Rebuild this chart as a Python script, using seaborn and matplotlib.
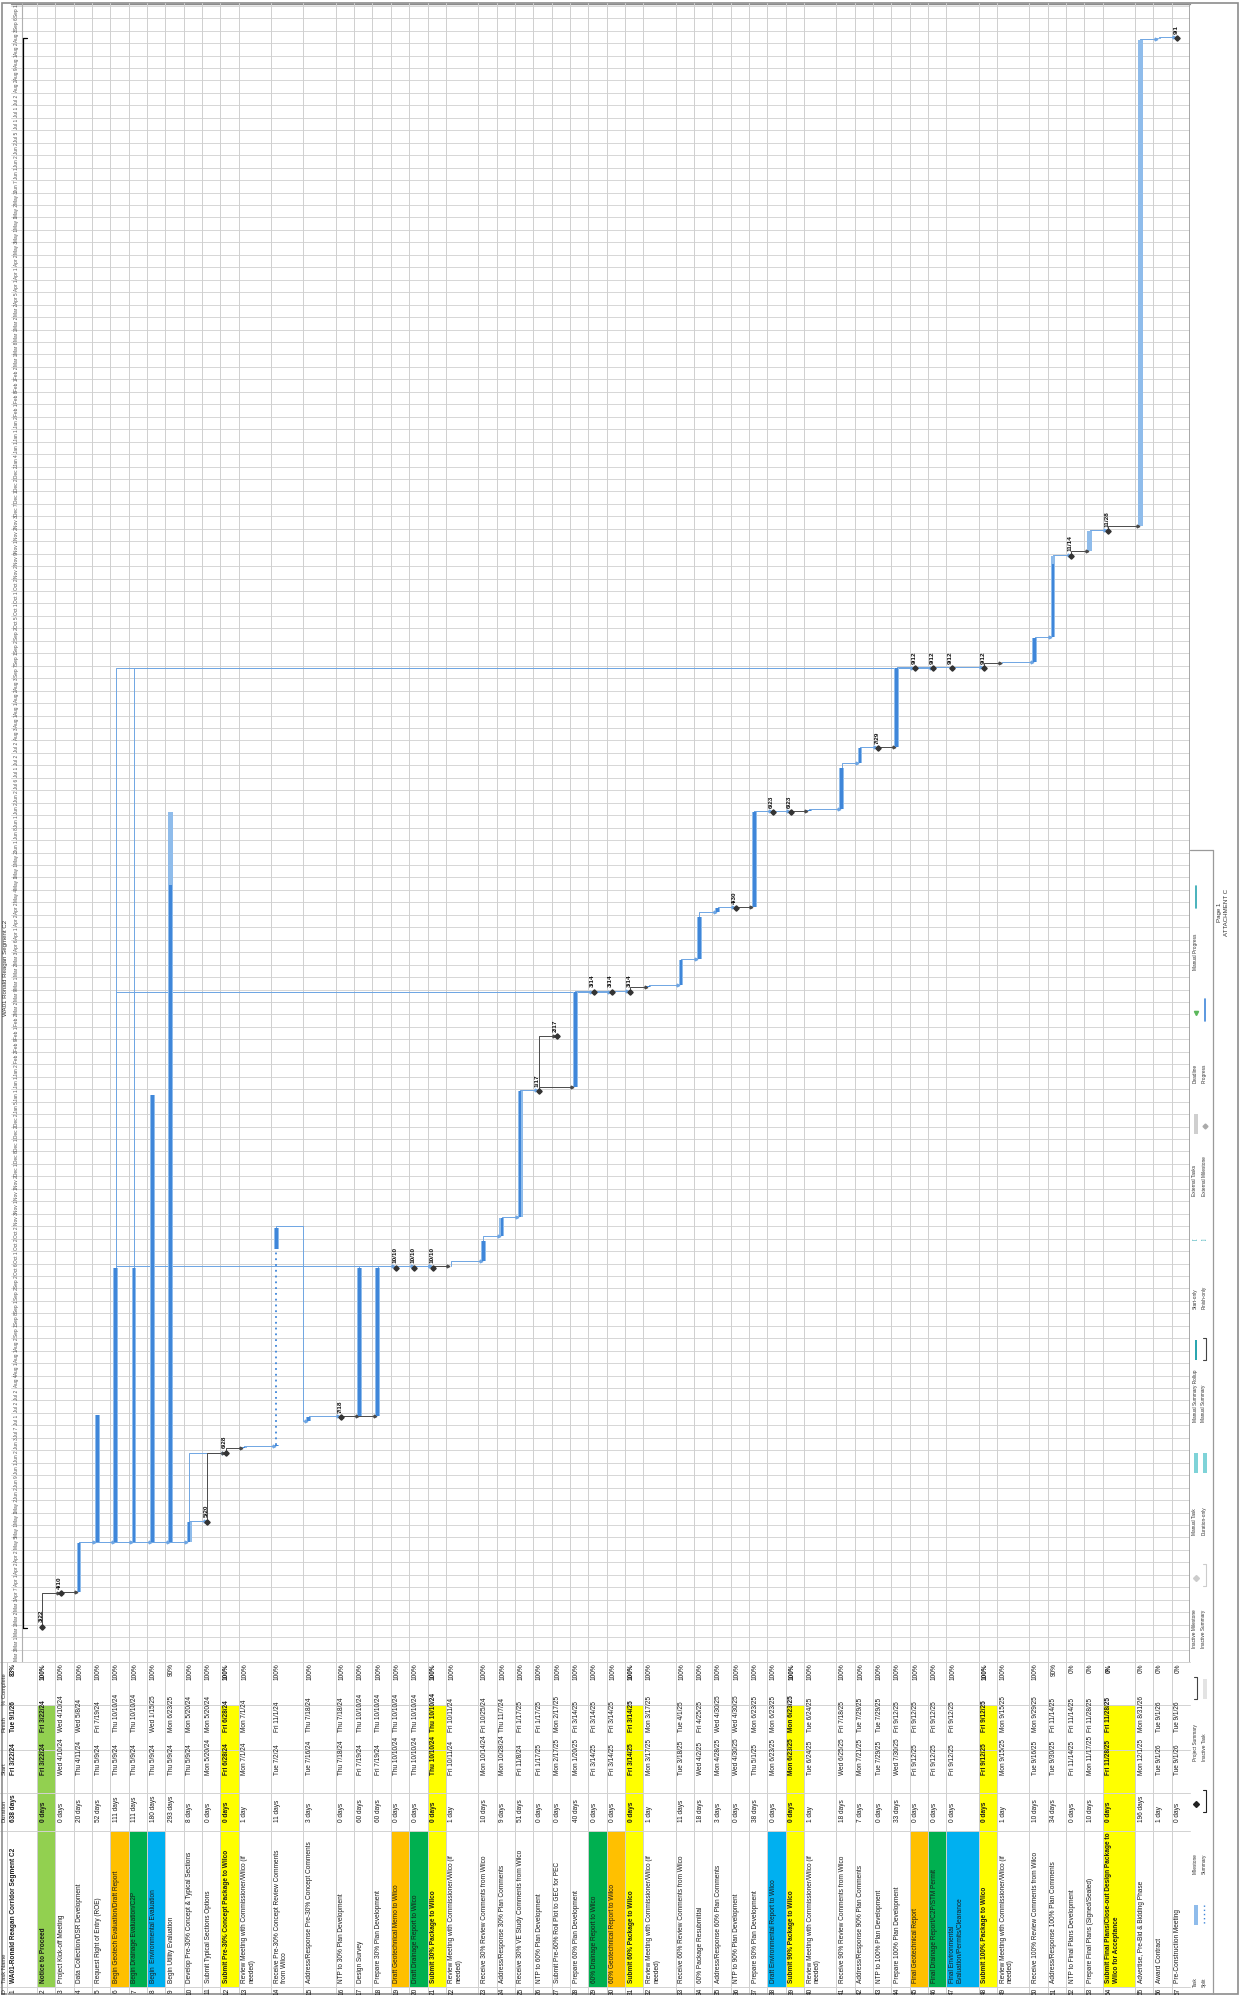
import datetime as dt
import numpy as np
import pandas as pd
import matplotlib
matplotlib.use("Agg")
import matplotlib.pyplot as plt
import matplotlib.dates as mdates
import seaborn as sns
from matplotlib.patches import Rectangle

sns.set_theme(style="white")
plt.rcParams['font.family'] = ['Liberation Sans', 'DejaVu Sans']

# ---------------- data ----------------
task_names = [
    "WA01-Ronald Reagan Corridor Segment C2",
    "Notice to Proceed",
    "Project Kick-off Meeting",
    "Data Collection/DSR Development",
    "Request Right of Entry (ROE)",
    "Begin Geotech Evaluation/Draft Report",
    "Begin Drainage Evaluation/C2P",
    "Begin  Environmental Evaluation",
    "Begin Utility Evaluation",
    "Develop Pre-30% Concept & Typical Sections",
    "Submit Typical Sections Options",
    "Submit Pre-30% Concept Package to Wilco",
    "Review Meeting with Commissioner/Wilco (if\nneeded)",
    "Receive Pre-30% Concept Review Comments\nfrom Wilco",
    "Address/Response Pre-30% Concept Comments",
    "NTP to 30% Plan Development",
    "Design Survey",
    "Prepare 30% Plan Development",
    "Draft Geotechnical Memo to Wilco",
    "Draft Drainage Report to Wilco",
    "Submit 30% Package to Wilco",
    "Review Meeting with Commissioner/Wilco (if\nneeded)",
    "Receive 30% Review Comments from Wilco",
    "Address/Response 30% Plan Comments",
    "Receive 30% VE Study Comments from Wilco",
    "NTP to 60% Plan Development",
    "Submit Pre-60% Roll Plot to GEC for PEC",
    "Prepare 60% Plan Development",
    "60% Drainage Report to Wilco",
    "60% Geotechnical Report to Wilco",
    "Submit 60% Package to Wilco",
    "Review Meeting with Commissioner/Wilco (if\nneeded)",
    "Receive 60% Review Comments from Wilco",
    "60% Package Resubmittal",
    "Address/Response 60% Plan Comments",
    "NTP to 90% Plan Development",
    "Prepare 90% Plan Development",
    "Draft Environmental Report to Wilco",
    "Submit 90% Package to Wilco",
    "Review Meeting with Commissioner/Wilco (if\nneeded)",
    "Receive 90% Review Comments from Wilco",
    "Address/Response 90% Plan Comments",
    "NTP to 100% Plan Development",
    "Prepare 100% Plan Development",
    "Final Geotechnical Report",
    "Final Drainage Report/C2P/STM Permit",
    "Final Environmental\nEvaluation/Permits/Clearance",
    "Submit 100% Package to Wilco",
    "Review Meeting with Commissioner/Wilco (if\nneeded)",
    "Receive 100% Review Comments from Wilco",
    "Address/Response 100% Plan Comments",
    "NTP to Final Plans Development",
    "Prepare Final Plans (Signed/Sealed)",
    "Submit Final Plans/Close-out Design Package to\nWilco for Acceptance",
    "Advertise, Pre-Bid & Bidding Phase",
    "Award Contract",
    "Pre-Construction Meeting",
]

durations = [
    "638 days", "0 days", "0 days", "20 days", "52 days", "111 days", "111 days",
    "180 days", "293 days", "8 days", "0 days", "0 days", "1 day", "11 days",
    "3 days", "0 days", "60 days", "60 days", "0 days", "0 days", "0 days",
    "1 day", "10 days", "9 days", "51 days", "0 days", "0 days", "40 days",
    "0 days", "0 days", "0 days", "1 day", "11 days", "18 days", "3 days",
    "0 days", "38 days", "0 days", "0 days", "1 day", "18 days", "7 days",
    "0 days", "33 days", "0 days", "0 days", "0 days", "0 days", "1 day",
    "10 days", "34 days", "0 days", "10 days", "0 days", "196 days", "1 day",
    "0 days",
]

starts = [
    "Fri 3/22/24", "Fri 3/22/24", "Wed 4/10/24", "Thu 4/11/24", "Thu 5/9/24",
    "Thu 5/9/24", "Thu 5/9/24", "Thu 5/9/24", "Thu 5/9/24", "Thu 5/9/24",
    "Mon 5/20/24", "Fri 6/28/24", "Mon 7/1/24", "Tue 7/2/24", "Tue 7/16/24",
    "Thu 7/18/24", "Fri 7/19/24", "Fri 7/19/24", "Thu 10/10/24", "Thu 10/10/24",
    "Thu 10/10/24", "Fri 10/11/24", "Mon 10/14/24", "Mon 10/28/24", "Fri 11/8/24",
    "Fri 1/17/25", "Mon 2/17/25", "Mon 1/20/25", "Fri 3/14/25", "Fri 3/14/25",
    "Fri 3/14/25", "Mon 3/17/25", "Tue 3/18/25", "Wed 4/2/25", "Mon 4/28/25",
    "Wed 4/30/25", "Thu 5/1/25", "Mon 6/23/25", "Mon 6/23/25", "Tue 6/24/25",
    "Wed 6/25/25", "Mon 7/21/25", "Tue 7/29/25", "Wed 7/30/25", "Fri 9/12/25",
    "Fri 9/12/25", "Fri 9/12/25", "Fri 9/12/25", "Mon 9/15/25", "Tue 9/16/25",
    "Tue 9/30/25", "Fri 11/14/25", "Mon 11/17/25", "Fri 11/28/25", "Mon 12/1/25",
    "Tue 9/1/26", "Tue 9/1/26",
]

finishes = [
    "Tue 9/1/26", "Fri 3/22/24", "Wed 4/10/24", "Wed 5/8/24", "Fri 7/19/24",
    "Thu 10/10/24", "Thu 10/10/24", "Wed 1/15/25", "Mon 6/23/25", "Mon 5/20/24",
    "Mon 5/20/24", "Fri 6/28/24", "Mon 7/1/24", "Fri 11/1/24", "Thu 7/18/24",
    "Thu 7/18/24", "Thu 10/10/24", "Thu 10/10/24", "Thu 10/10/24", "Thu 10/10/24",
    "Thu 10/10/24", "Fri 10/11/24", "Fri 10/25/24", "Thu 11/7/24", "Fri 1/17/25",
    "Fri 1/17/25", "Mon 2/17/25", "Fri 3/14/25", "Fri 3/14/25", "Fri 3/14/25",
    "Fri 3/14/25", "Mon 3/17/25", "Tue 4/1/25", "Fri 4/25/25", "Wed 4/30/25",
    "Wed 4/30/25", "Mon 6/23/25", "Mon 6/23/25", "Mon 6/23/25", "Tue 6/24/25",
    "Fri 7/18/25", "Tue 7/29/25", "Tue 7/29/25", "Fri 9/12/25", "Fri 9/12/25",
    "Fri 9/12/25", "Fri 9/12/25", "Fri 9/12/25", "Mon 9/15/25", "Mon 9/29/25",
    "Fri 11/14/25", "Fri 11/14/25", "Fri 11/28/25", "Fri 11/28/25", "Mon 8/31/26",
    "Tue 9/1/26", "Tue 9/1/26",
]

pct_complete = [
    83, 100, 100, 100, 100, 100, 100, 100, 90, 100, 100, 100, 100, 100, 100,
    100, 100, 100, 100, 100, 100, 100, 100, 100, 100, 100, 100, 100, 100, 100,
    100, 100, 100, 100, 100, 100, 100, 100, 100, 100, 100, 100, 100, 100, 100,
    100, 100, 100, 100, 100, 90, 0, 0, 0, 0, 0, 0,
]

# split task 14: pieces of work
split_task = 14
split_pieces = [("7/2/24", "7/2/24"), ("10/21/24", "11/1/24")]

# predecessor -> successor links
links = [
    (2, 3), (3, 4), (4, 5), (4, 6), (4, 7), (4, 8), (4, 9), (4, 10), (10, 11),
    (10, 12), (11, 12), (12, 13), (13, 14), (14, 15), (15, 16), (16, 17),
    (16, 18), (6, 19), (7, 20), (17, 21), (18, 21), (21, 22), (22, 23),
    (23, 24), (24, 25), (25, 26), (26, 28), (26, 27), (7, 29), (6, 30),
    (28, 31), (31, 32), (32, 33), (33, 34), (34, 35), (35, 36), (36, 37),
    (37, 38), (37, 39), (39, 40), (40, 41), (41, 42), (42, 43), (43, 44),
    (6, 45), (7, 46), (44, 48), (48, 49), (49, 50), (50, 51), (51, 52),
    (52, 53), (53, 54), (54, 55), (55, 56), (56, 57),
]

name_fill = {6: "#FFC000", 19: "#FFC000", 30: "#FFC000", 45: "#FFC000",
             7: "#00B050", 20: "#00B050", 29: "#00B050", 46: "#00B050",
             8: "#00B0F0", 38: "#00B0F0", 47: "#00B0F0"}
row_fill = {2: "#92D050", 12: "#FFFF00", 21: "#FFFF00", 31: "#FFFF00",
            39: "#FFFF00", 48: "#FFFF00", 54: "#FFFF00"}
bold_rows = {1, 2, 12, 21, 31, 39, 48, 54}

legend_a = ["Task", "Milestone", "Project Summary", "Inactive Milestone",
            "Manual Task", "Manual Summary Rollup", "Start-only",
            "External Tasks", "Deadline", "Manual Progress"]
legend_b = ["Split", "Summary", "Inactive Task", "Inactive Summary",
            "Duration-only", "Manual Summary", "Finish-only",
            "External Milestone", "Progress", ""]

# ---------------- frame ----------------
def to_date(s):
    return pd.to_datetime(s.split()[-1], format="%m/%d/%y")

df = pd.DataFrame({"id": range(1, 58), "name": task_names, "dur": durations,
                   "start": starts, "finish": finishes, "pct": pct_complete})
df["s"] = [mdates.date2num(to_date(v) + pd.Timedelta(hours=8)) for v in df["start"]]
df["f"] = [mdates.date2num(to_date(v) + pd.Timedelta(hours=17)) for v in df["finish"]]
df["ms"] = df["dur"] == "0 days"

W, H = 1241, 1995
fig = plt.figure(figsize=(W / 100, H / 100), dpi=100)
page = fig.add_axes([0, 0, 1, 1])
page.set_xlim(0, W)
page.set_ylim(H, 0)
page.axis("off")

# row layout (pixels across the page)
tall = {1, 13, 14, 15, 22, 32, 40, 47, 49, 54}
ROW, TALL = 18.35, 32.3
row_x = {1: 7.0}
x = 37.0
for i in range(2, 58):
    row_x[i] = x
    x += TALL if i in tall else ROW
row_end = x

GX0, GX1, GY0, GY1 = 11, row_end, 3, 1662
PX_DAY = 1.779
gant = fig.add_axes([GX0 / W, 1 - GY1 / H, (GX1 - GX0) / W, (GY1 - GY0) / H])
t_lo = mdates.date2num(dt.datetime(2024, 3, 3))
t_hi = t_lo + (GY1 - GY0) / PX_DAY
gant.set_xlim(GX0, GX1)
gant.set_ylim(t_lo, t_hi)
gant.axis("off")
d_px = 1 / PX_DAY  # one pixel in days

# grid: weekly lines and row lines
sundays = pd.date_range("2024-03-03", "2026-09-20", freq="7D")
for w in sundays:
    gant.axhline(mdates.date2num(w), color="#d6d6d6", lw=0.7, zorder=1)
for i in range(2, 58):
    gant.axvline(row_x[i], color="#cfcfcf", lw=0.7, zorder=1)
gant.axvline(row_end - 0.5, color="#9a9a9a", lw=1.2, zorder=1)
gant.axvline(22, color="#b0b0b0", lw=0.8, zorder=1)

# timescale labels (truncated in their cells)
for w in sundays:
    tw = mdates.date2num(w)
    if tw + 6.5 > t_hi:
        continue
    gant.text(16.5, tw + 0.8 * d_px, f"{w:%b} {w.day}"[:5],
              rotation=90, rotation_mode="anchor", ha="left", va="center",
              fontsize=3.4, color="#505050", zorder=3)

BAR_C, PROG_C, LINK_C = "#8FBCEB", "#3F86D9", "#6FA6E3"

def bar_x(i):
    return row_x[i] + 5.3

# summary (project) bar
r1 = df.iloc[0]
gant.plot([23.3, 23.3], [r1.s, r1.f], color="black", lw=0.9, zorder=4)
for t in (r1.s, r1.f):
    gant.plot([23.3, 26.5], [t, t], color="black", lw=0.9, zorder=4)

# links
for p, s in links:
    rp, rs = df.iloc[p - 1], df.iloc[s - 1]
    xp, xs = bar_x(p), row_x[s] + 2.4
    col = "#4a4a4a" if rp.ms else LINK_C
    tf, ts = rp.f, rs.s if not rs.ms else rs.f
    if rs.ms and not rp.ms and abs(ts - tf) < 0.01:
        ts = tf + 1.2 * d_px
    if ts >= tf - 0.01:
        pts = [(xp, tf), (xp, ts), (xs, ts)]
    else:
        up = tf + 2.5 * d_px
        pts = [(xp, tf), (xp, up), (row_x[s], up), (row_x[s], ts), (xs, ts)]
    gant.plot(*zip(*pts), color=col, lw=0.7, zorder=3)
    gant.plot(xs, ts, marker=">", ms=2.0, color=col, mec=col, zorder=5)

# task bars and milestones
for i, r in df.iterrows():
    tid = r.id
    if tid == 1:
        continue
    cx = bar_x(tid)
    if r.ms:
        gant.plot(cx, r.f, marker="D", ms=2.7, color="#333333", mec="#333333",
                  zorder=6)
        gant.text(cx - 1.2, r.f + 4.5 * d_px, f"{to_date(r.finish).month}/{to_date(r.finish).day}",
                  rotation=90, rotation_mode="anchor", ha="left", va="center",
                  fontsize=4.6, fontweight="bold", color="#111111", zorder=6)
        continue
    pieces = [(r.s, r.f)]
    if tid == split_task:
        pieces = [(mdates.date2num(to_date("x " + a) + pd.Timedelta(hours=8)),
                   mdates.date2num(to_date("x " + b) + pd.Timedelta(hours=17)))
                  for a, b in split_pieces]
        gant.plot([cx, cx], [pieces[0][1], pieces[1][0]], color="#3F86D9",
                  lw=1.3, ls=(0, (1, 2.2)), zorder=4)
    for a, b in pieces:
        gant.add_patch(Rectangle((cx - 2.4, a), 4.8, b - a, color=BAR_C, lw=0, zorder=4))
        if r.pct > 0:
            gant.add_patch(Rectangle((cx - 1.3, a), 2.6, (b - a) * r.pct / 100,
                                     color=PROG_C, lw=0, zorder=5))

# ---------------- table ----------------
Y_PCT, Y_FIN, Y_STA, Y_DUR, Y_NAME, Y_ID = 1663, 1705, 1750, 1793, 1831, 1987
for i in range(2, 58):
    page.plot([row_x[i], row_x[i]], [GY1, H], color="#cfcfcf", lw=0.7, zorder=1)
for yy in (GY1, Y_FIN, Y_STA, Y_DUR, Y_NAME, Y_ID):
    page.plot([0, row_end], [yy, yy], color="#d2d2d2", lw=0.7, zorder=1)
page.plot([7, 7], [GY1, H], color="#cfcfcf", lw=0.7)

for i, r in df.iterrows():
    tid = r.id
    x0 = row_x[tid]
    x1 = row_x[tid + 1] if tid < 57 else row_end
    if tid in row_fill:
        page.add_patch(Rectangle((x0, Y_FIN), x1 - x0, Y_ID - Y_FIN,
                                 color=row_fill[tid], lw=0, zorder=0.5))
    if tid in name_fill:
        page.add_patch(Rectangle((x0, Y_NAME), x1 - x0, Y_ID - Y_NAME,
                                 color=name_fill[tid], lw=0, zorder=0.5))
    fw = "bold" if tid in bold_rows else "normal"
    xt = x0 + 2.6
    kw = dict(rotation=90, rotation_mode="anchor", va="top", fontsize=4.7,
              color="#1a1a1a", linespacing=1.05)
    page.text(xt, Y_ID + 4, str(tid), ha="center", **kw)
    page.text(xt, 1983, r["name"], ha="left", fontweight=fw, **kw)
    page.text(xt, 1822, r.dur, ha="left", fontweight=fw, **kw)
    page.text(xt, 1775, r.start, ha="left", fontweight=fw, **kw)
    page.text(xt, 1732, r.finish, ha="left", fontweight=fw, **kw)
    page.text(xt, Y_PCT + 0.5, f"{r.pct}%", ha="right", fontweight=fw, **kw)

hdr = dict(rotation=90, rotation_mode="anchor", va="top", fontsize=4.2, color="#333333")
page.text(1.8, Y_ID + 4, "ID", ha="center", **hdr)
page.text(1.8, 1983, "Task Name", ha="left", **hdr)
page.text(1.8, 1822, "Duration", ha="left", **hdr)
page.text(1.8, 1775, "Start", ha="left", **hdr)
page.text(1.8, 1732, "Finish", ha="left", **hdr)
page.text(1.8, 1705, "% Complete", ha="left", **hdr)

page.text(5.5, 968, "WA01 Ronald Reagan Segment C2", rotation=90, ha="center",
          va="center", fontsize=4.4, color="#333333")

# ---------------- legend / footer ----------------
LX0, LX1 = row_end, 1213
page.plot([LX1, LX1], [850, H], color="#9a9a9a", lw=0.9)
page.plot([LX0, LX1], [850, 850], color="#9a9a9a", lw=0.9)
step = 113
for k, (la, lb) in enumerate(zip(legend_a, legend_b)):
    yb = 1987 - k * step
    page.text(1195, yb, la, rotation=90, rotation_mode="anchor", ha="left",
              va="center", fontsize=3.4, color="#333333")
    if lb:
        page.text(1204, yb, lb, rotation=90, rotation_mode="anchor", ha="left",
                  va="center", fontsize=3.4, color="#333333")
    ys = yb - 62
    if k == 0:
        page.add_patch(Rectangle((1193.5, ys - 20), 4, 20, color=BAR_C, lw=0))
        page.plot([1204, 1204], [ys - 20, ys], color="#3F86D9", lw=1, ls=(0, (1, 2)))
    elif k == 1:
        page.plot(1195.5, ys - 8, marker="D", ms=3, color="#222222")
        page.plot([1203, 1206, 1206, 1203], [ys, ys, ys - 22, ys - 22], color="#222222", lw=0.8)
    elif k == 2:
        page.plot([1194, 1197, 1197, 1194], [ys, ys, ys - 22, ys - 22], color="#444444", lw=0.8)
        page.add_patch(Rectangle((1202.5, ys - 20), 4, 20, color="#e3e3e3", lw=0))
    elif k == 3:
        page.plot(1195.5, ys - 8, marker="D", ms=3, color="#cccccc")
        page.plot([1203, 1206, 1206, 1203], [ys, ys, ys - 22, ys - 22], color="#cccccc", lw=0.8)
    elif k == 4:
        page.add_patch(Rectangle((1193.5, ys - 20), 4, 20, color="#7fd3d8", lw=0))
        page.add_patch(Rectangle((1202.5, ys - 20), 4, 20, color="#7fd3d8", lw=0))
    elif k == 5:
        page.add_patch(Rectangle((1194.5, ys - 20), 2.5, 20, color="#2ba6b0", lw=0))
        page.plot([1203, 1206, 1206, 1203], [ys, ys, ys - 22, ys - 22], color="#444444", lw=0.8)
    elif k == 6:
        page.text(1195.5, ys - 8, "[", rotation=90, ha="center", va="center", fontsize=4, color="#2ba6b0")
        page.text(1204.5, ys - 8, "]", rotation=90, ha="center", va="center", fontsize=4, color="#2ba6b0")
    elif k == 7:
        page.add_patch(Rectangle((1193.5, ys - 20), 4, 20, color="#cfcfcf", lw=0))
        page.plot(1204.5, ys - 8, marker="D", ms=2.5, color="#aaaaaa")
    elif k == 8:
        page.plot(1195.5, ys - 8, marker="v", ms=3, color="#5cb85c")
        page.plot([1204.5, 1204.5], [ys - 22, ys], color="#3F86D9", lw=1.2)
    elif k == 9:
        page.plot([1195.5, 1195.5], [ys - 22, ys], color="#2ba6b0", lw=1.2)

page.text(1219.5, 912, "Page 1", rotation=90, ha="center", va="center", fontsize=4.4, color="#333333")
page.text(1226.5, 912, "ATTACHMENT C", rotation=90, ha="center", va="center", fontsize=4.4, color="#333333")

# outer border
page.add_patch(Rectangle((1.5, 2.5), 1236, 1991, fill=False, ec="#8c8c8c", lw=1.2))
page.plot([GX0, row_end], [GY0 + 0.5, GY0 + 0.5], color="#8c8c8c", lw=1)

fig.savefig("out.png", dpi=100)
